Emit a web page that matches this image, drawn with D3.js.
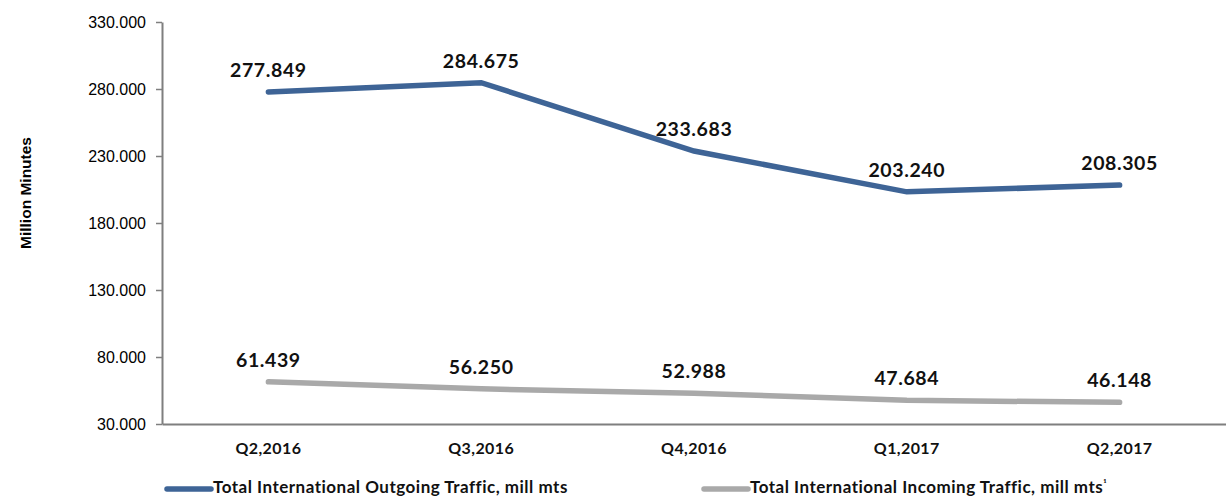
<!DOCTYPE html>
<html>
<head>
<meta charset="utf-8">
<script src="https://cdn.jsdelivr.net/npm/d3@7"></script>
<style>
  html, body { margin: 0; padding: 0; background: #fff; }
  svg { display: block; }
</style>
</head>
<body>
<svg id="chart" width="1226" height="497"></svg>
<script>
const categories = ["Q2,2016", "Q3,2016", "Q4,2016", "Q1,2017", "Q2,2017"];
const outgoing = [277.849, 284.675, 233.683, 203.240, 208.305];
const incoming = [61.439, 56.250, 52.988, 47.684, 46.148];
const yTicks = [30, 80, 130, 180, 230, 280, 330];
const seriesNames = ["Total International Outgoing Traffic, mill mts", "Total International Incoming Traffic, mill mts"];

const svg = d3.select("#chart");
const plotLeft = 162, plotRight = 1226, plotTop = 22, plotBottom = 424;

const x = d3.scaleBand().domain(categories).range([plotLeft, plotRight]);
const y = d3.scaleLinear().domain([30, 330]).range([plotBottom, plotTop]);
const fmt = d3.format(".3f");

const labelFont = "Lato, 'Open Sans', sans-serif";
const axisColor = "#7f7f7f";

// y axis
const yAxis = svg.append("g")
  .attr("transform", `translate(${plotLeft},0)`)
  .call(d3.axisLeft(y).tickValues(yTicks).tickFormat(fmt).tickSize(6).tickSizeOuter(0));
yAxis.select(".domain").attr("stroke", axisColor).attr("stroke-width", 2);
yAxis.selectAll(".tick line").attr("stroke", axisColor).attr("stroke-width", 1.5);
yAxis.selectAll(".tick text")
  .attr("x", -16)
  .attr("font-family", "'Liberation Sans', Arial, sans-serif")
  .attr("font-size", 16)
  .attr("fill", "#000");

// x axis
const xAxis = svg.append("g")
  .attr("transform", `translate(0,${plotBottom})`)
  .call(d3.axisBottom(x).tickSize(0).tickSizeOuter(0));
xAxis.select(".domain").attr("stroke", axisColor).attr("stroke-width", 2);
xAxis.selectAll(".tick text")
  .attr("dy", 0)
  .attr("y", 30)
  .attr("font-family", labelFont)
  .attr("font-weight", "bold")
  .attr("font-size", 16)
  .attr("letter-spacing", 0.4)
  .attr("fill", "#111");

// y axis title
svg.append("text")
  .attr("transform", `translate(31,${(plotTop + plotBottom) / 2 - 30}) rotate(-90)`)
  .attr("text-anchor", "middle")
  .attr("font-family", "'Liberation Sans', Arial, sans-serif")
  .attr("font-weight", "bold")
  .attr("font-size", 15.5)
  .text("Million Minutes");

const cx = c => x(c) + x.bandwidth() / 2;

const series = [
  { values: outgoing, color: "#3e6496" },
  { values: incoming, color: "#a9a9a9" }
];

const line = d3.line().x((d, i) => cx(categories[i])).y(d => y(d));

series.forEach(s => {
  svg.append("path")
    .datum(s.values)
    .attr("d", line)
    .attr("fill", "none")
    .attr("stroke", s.color)
    .attr("stroke-width", 5.5)
    .attr("stroke-linecap", "round")
    .attr("stroke-linejoin", "miter");

  svg.append("g").selectAll("text")
    .data(s.values)
    .join("text")
    .attr("x", (d, i) => cx(categories[i]))
    .attr("y", d => y(d) - 15)
    .attr("text-anchor", "middle")
    .attr("font-family", labelFont)
    .attr("font-weight", "bold")
    .attr("font-size", 19.5)
    .attr("letter-spacing", 0.6)
    .attr("fill", "#111")
    .text(d => fmt(d));
});

// legend
const legend = [
  { x: 167, color: series[0].color, name: seriesNames[0], sup: "" },
  { x: 704, color: series[1].color, name: seriesNames[1], sup: "¹" }
];
legend.forEach(l => {
  svg.append("line")
    .attr("x1", l.x).attr("x2", l.x + 44)
    .attr("y1", 489).attr("y2", 489)
    .attr("stroke", l.color)
    .attr("stroke-width", 5.5)
    .attr("stroke-linecap", "round");
  const t = svg.append("text")
    .attr("x", l.x + 46)
    .attr("y", 493)
    .attr("font-family", labelFont)
    .attr("font-weight", "bold")
    .attr("font-size", 17)
    .attr("letter-spacing", 0.5)
    .attr("fill", "#111")
    .text(l.name);
  if (l.sup) {
    t.append("tspan").attr("dy", -6).attr("font-size", 10).text(l.sup);
  }
});
</script>
</body>
</html>
